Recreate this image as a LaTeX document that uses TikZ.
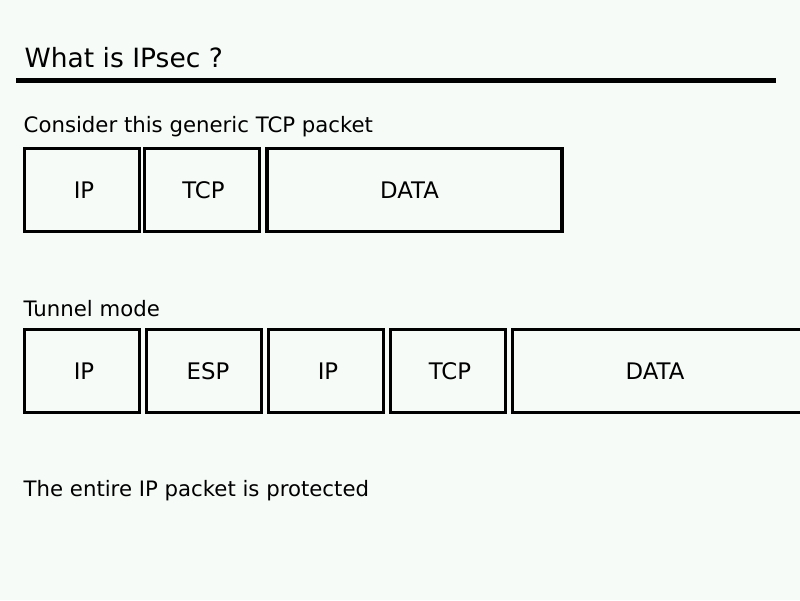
\documentclass[tikz,border=0pt]{standalone}
\usepackage{fontspec}
\setmainfont{DejaVu Sans}
\definecolor{pagebg}{RGB}{246,251,247}
\tikzset{
  field/.style={draw=black, line width=3.2pt, minimum height=83pt, inner sep=0pt,
    font=\fontsize{22.8}{26}\selectfont, text=black},
  narrow/.style={field, minimum width=115pt},
  wide/.style={field, minimum width=295pt},
  body/.style={anchor=base west, inner sep=0pt, font=\fontsize{21.25}{25}\selectfont},
  heading/.style={anchor=base west, inner sep=0pt, font=\fontsize{26.5}{30}\selectfont},
}
\begin{document}
\begin{tikzpicture}[x=1pt,y=-1pt]
\useasboundingbox (0,0) rectangle (800,600);
\fill[pagebg] (0,0) rectangle (800,600);
\begin{scope}
\clip (0,0) rectangle (800,600);
\node[heading] (title) at (24.5,67) {What is IPsec ?};
\draw[line width=5pt] (16,80.5) -- (776,80.5);

\node[body] (consider) at (23.5,132) {Consider this generic TCP packet};
\node[narrow] (ip1) at (82,190) {\hspace*{4pt}IP};
\node[narrow] (tcp1) at (202,190) {\hspace*{3pt}TCP};
\node[wide] (data1) at (414.5,190) {DATA\hspace*{10pt}};

\node[body] (tunnel) at (23.5,316.7) {Tunnel mode};
\node[narrow] (ip2) at (82,371.3) {\hspace*{4pt}IP};
\node[narrow] (esp2) at (204,371.3) {\hspace*{8pt}ESP};
\node[narrow] (ip3) at (326,371.3) {\hspace*{4pt}IP};
\node[narrow] (tcp2) at (448,371.3) {\hspace*{4pt}TCP};
\node[wide] (data2) at (660,371.3) {DATA\hspace*{10pt}};

\node[body] (entire) at (23.5,496.7) {The entire IP packet is protected};
\end{scope}
\end{tikzpicture}
\end{document}
